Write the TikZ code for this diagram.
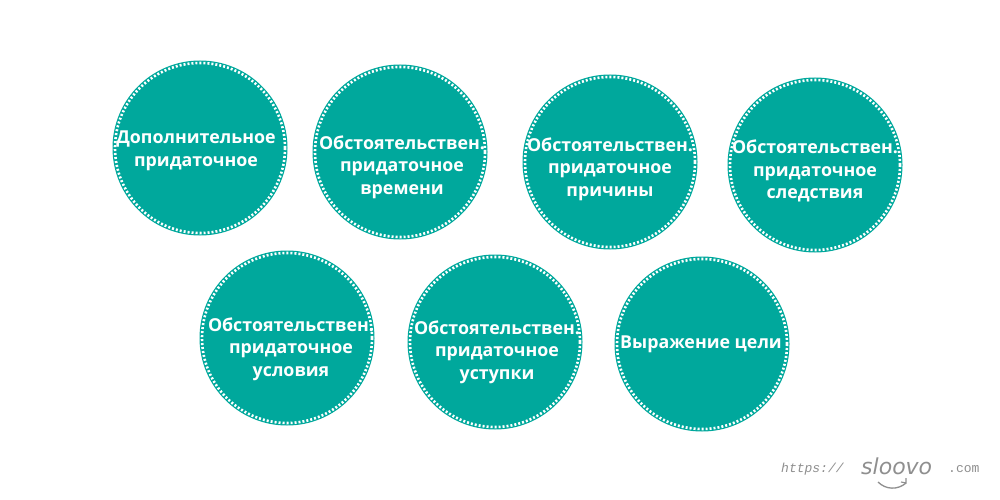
\documentclass[tikz,border=0pt]{standalone}
\usepackage{fontspec}
\setmainfont{Open Sans}
\newfontfamily\logomono{Liberation Mono}
\newfontfamily\logosans{DejaVu Sans}
\definecolor{teal1}{HTML}{00A89C}
\definecolor{logogray}{HTML}{8F8F8F}
\begin{document}
\begin{tikzpicture}[x=1pt,y=-1pt,
  bubble/.style={circle,fill=teal1,minimum size=175pt,inner sep=0pt},
  ring/.style={draw=white,line width=2.6pt,dash pattern=on 2pt off 2pt},
  label/.style={text=white,font=\fontsize{17.8}{22.5}\selectfont\bfseries,align=center,inner sep=0pt}]
\useasboundingbox[fill=white] (0,0) rectangle (1000,500);
% circles
\foreach \n/\x/\y in {c1/200/148,c2/400/152,c3/610/162,c4/815/165,c5/287/338,c6/495/342,c7/702/344}{
  \node[bubble] (\n) at (\x,\y) {};
  \draw[ring] (\n.center) circle[radius=85];
}
% texts
\node[label] (t1) at (196,151) {Дополнительное\\придаточное};
\node[label] (t2) at (402,167) {Обстоятельствен.\\придаточное\\времени};
\node[label] (t3) at (610,169) {Обстоятельствен.\\придаточное\\причины};
\node[label] (t4) at (815,171) {Обстоятельствен.\\придаточное\\следствия};
\node[label] (t5) at (291,349) {Обстоятельствен.\\придаточное\\условия};
\node[label] (t6) at (497,352) {Обстоятельствен.\\придаточное\\уступки};
\node[label] (t7) at (701,344) {Выражение цели};
% logo
\node[text=logogray,font=\logomono\itshape\fontsize{13}{13}\selectfont,anchor=base west,inner sep=0pt] (lh) at (781,472) {https://};
\node[text=logogray,font=\logosans\itshape\fontsize{22}{22}\selectfont,anchor=base west,inner sep=0pt] (ls) at (861,474) {sloovo};
\node[text=logogray,font=\logomono\fontsize{13}{13}\selectfont,anchor=base west,inner sep=0pt] (lc) at (948,472) {.com};
\draw[logogray,line width=1.3pt] (878,482) .. controls (886,490) and (898,490) .. (906,483);
\draw[logogray,line width=1.1pt] (901,482) -- (906,483) -- (906,478);
\end{tikzpicture}
\end{document}
